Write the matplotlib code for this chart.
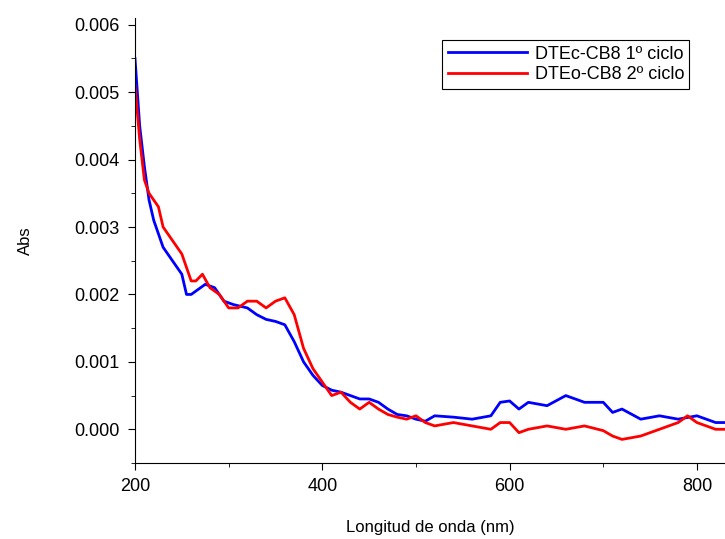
import matplotlib
matplotlib.use("Agg")
import matplotlib.pyplot as plt
from matplotlib.ticker import MultipleLocator

plt.rcParams["font.family"] = ["Liberation Sans", "DejaVu Sans"]

wl_blue = [200, 205, 210, 215, 220, 225, 230, 240, 250, 255, 260, 270, 275, 285, 295, 305, 320, 330, 340,
           350, 360, 370, 380, 390, 400, 410, 420, 430, 440, 450, 460, 470, 480, 490, 500, 510, 520, 540,
           560, 580, 590, 600, 610, 620, 640, 660, 680, 700, 710, 720, 740, 760, 780, 800, 820, 830]
abs_blue = [0.0055, 0.0045, 0.0039, 0.0034, 0.0031, 0.0029, 0.0027, 0.0025, 0.0023, 0.0020, 0.0020,
            0.0021, 0.00215, 0.0021, 0.0019, 0.00185, 0.0018, 0.0017, 0.00163, 0.0016, 0.00155, 0.0013,
            0.0010, 0.0008, 0.00065, 0.00058, 0.00055, 0.0005, 0.00045, 0.00045, 0.0004, 0.0003, 0.00022,
            0.0002, 0.00015, 0.00012, 0.0002, 0.00018, 0.00015, 0.0002, 0.0004, 0.00042, 0.0003, 0.0004,
            0.00035, 0.0005, 0.0004, 0.0004, 0.00025, 0.0003, 0.00015, 0.0002, 0.00015, 0.0002, 0.0001, 0.0001]

wl_red = [200, 205, 210, 215, 225, 230, 240, 250, 255, 260, 265, 272, 280, 290, 300, 310, 320, 330, 340,
          350, 360, 370, 380, 390, 400, 410, 420, 430, 440, 450, 460, 470, 480, 490, 500, 510, 520, 540,
          560, 580, 590, 600, 610, 620, 640, 660, 680, 700, 710, 720, 740, 760, 780, 790, 800, 820, 830]
abs_red = [0.0051, 0.0043, 0.0037, 0.0035, 0.0033, 0.0030, 0.0028, 0.0026, 0.0024, 0.0022, 0.0022,
           0.0023, 0.0021, 0.0020, 0.0018, 0.0018, 0.0019, 0.0019, 0.0018, 0.0019, 0.00195, 0.0017,
           0.0012, 0.0009, 0.0007, 0.0005, 0.00055, 0.0004, 0.0003, 0.0004, 0.0003, 0.00022, 0.00018,
           0.00015, 0.0002, 0.0001, 0.00005, 0.0001, 0.00005, 0.0, 0.0001, 0.0001, -0.00005, 0.0, 0.00005,
           0.0, 0.00005, -0.00002, -0.0001, -0.00015, -0.0001, 0.0, 0.0001, 0.0002, 0.0001, 0.0, 0.0]

fig = plt.figure(figsize=(7.25, 5.39), dpi=100)
ax = fig.add_axes([135 / 725, 1 - 463 / 539, 590 / 725, 445 / 539])
ax.plot(wl_blue, abs_blue, color="#0000ff", lw=2, label="DTEc-CB8 1º ciclo")
ax.plot(wl_red, abs_red, color="#ff0000", lw=2, label="DTEo-CB8 2º ciclo")

ax.set_xlim(200, 830)
ax.set_ylim(-0.0005, 0.0061)
ax.xaxis.set_major_locator(MultipleLocator(200))
ax.xaxis.set_minor_locator(MultipleLocator(100))
ax.yaxis.set_major_locator(MultipleLocator(0.001))
ax.yaxis.set_minor_locator(MultipleLocator(0.0005))
ax.yaxis.set_major_formatter(plt.FuncFormatter(lambda v, p: f"{v:.3f}"))
ax.spines["top"].set_visible(False)
ax.spines["right"].set_visible(False)
ax.tick_params(which="both", direction="out", labelsize=13, pad=6)
ax.tick_params(which="major", length=5)
ax.tick_params(which="minor", length=3)
ax.set_xlabel("Longitud de onda (nm)", fontsize=12, labelpad=18)
ax.set_ylabel("Abs", fontsize=12, labelpad=30)

leg = ax.legend(loc="upper right", bbox_to_anchor=(0.955, 0.97), fontsize=13, fancybox=False,
                edgecolor="black", framealpha=1, handlelength=4.4, handletextpad=0.4,
                borderpad=0.3, labelspacing=0.2)
leg.get_frame().set_linewidth(0.8)

fig.savefig("out.png", dpi=100)
